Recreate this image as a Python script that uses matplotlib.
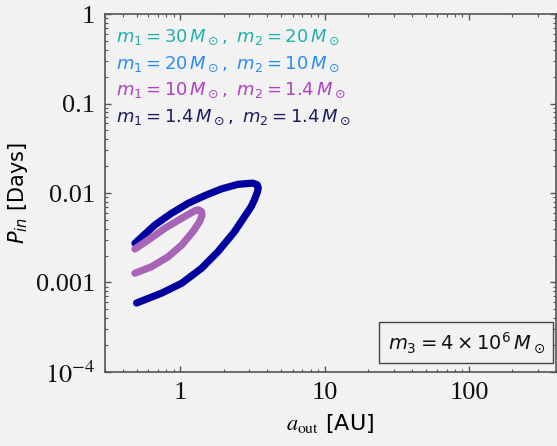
import numpy as np
import matplotlib.pyplot as plt
from matplotlib.ticker import LogLocator, FixedLocator, FixedFormatter, NullFormatter

# Stability boundary curves (a_out in AU, P_in in days), traced as closed loops
ns_x = [0.497, 0.740, 1.02, 1.40, 1.82, 2.37, 2.93, 3.09, 3.25, 3.42, 3.46, 3.40,
        3.17, 2.50, 1.92, 1.47, 1.13, 0.867, 0.665, 0.484]
ns_y = [0.00059, 0.00076, 0.00098, 0.00144, 0.00221, 0.00370, 0.00618, 0.00703,
        0.00835, 0.0103, 0.0115, 0.0124, 0.0129, 0.0125, 0.0111, 0.00933, 0.00767,
        0.00593, 0.00439, 0.00274]

bh_x = [0.484, 0.631, 0.822, 1.02, 1.22, 1.36, 1.41, 1.40, 1.33, 1.26, 1.02, 0.779,
        0.599, 0.484]
bh_y = [0.00127, 0.00150, 0.00194, 0.00262, 0.00370, 0.00480, 0.00560, 0.00620,
        0.00650, 0.00635, 0.00522, 0.00403, 0.00299, 0.00237]

legend_texts = [r'$m_1 = 30\,M_\odot,\ m_2 = 20\,M_\odot$',
                r'$m_1 = 20\,M_\odot,\ m_2 = 10\,M_\odot$',
                r'$m_1 = 10\,M_\odot,\ m_2 = 1.4\,M_\odot$',
                r'$m_1 = 1.4\,M_\odot,\ m_2 = 1.4\,M_\odot$']
legend_colors = ['#22B2AE', '#2A8CF5', '#B040C4', '#1C1C5E']

ytick_vals = [1e-4, 1e-3, 1e-2, 1e-1, 1]
ytick_labels = [r'$10^{-4}$', '0.001', '0.01', '0.1', '1']
xtick_vals = [1, 10, 100]
xtick_labels = ['1', '10', '100']

bg = '#F2F2F2'
fig = plt.figure(figsize=(5.57, 4.46), dpi=100, facecolor=bg)
ax = fig.add_axes([0.1885, 0.166, 0.8095, 0.8025], facecolor=bg)

ax.plot(ns_x, ns_y, color='#00009E', lw=5.2, solid_capstyle='round', solid_joinstyle='round')
ax.plot(bh_x, bh_y, color='#A865B8', lw=5.2, solid_capstyle='round', solid_joinstyle='round')

ax.set_xscale('log')
ax.set_yscale('log')
ax.set_xlim(0.3, 400)
ax.set_ylim(1e-4, 1)

ax.xaxis.set_major_locator(FixedLocator(xtick_vals))
ax.xaxis.set_major_formatter(FixedFormatter(xtick_labels))
ax.yaxis.set_major_locator(FixedLocator(ytick_vals))
ax.yaxis.set_major_formatter(FixedFormatter(ytick_labels))
for axis in (ax.xaxis, ax.yaxis):
    axis.set_minor_locator(LogLocator(base=10, subs=np.arange(2, 10)))
    axis.set_minor_formatter(NullFormatter())

ax.tick_params(which='both', direction='in', top=True, right=True, color='#555555')
ax.tick_params(which='major', length=4, width=1.0, pad=7)
ax.tick_params(which='minor', length=2.2, width=0.8)
for lab in ax.get_xticklabels() + ax.get_yticklabels():
    lab.set_fontfamily('Liberation Serif')
    lab.set_math_fontfamily('stix')
    lab.set_fontsize(19)
    lab.set_color('#111111')

for sp in ax.spines.values():
    sp.set_color('#555555')
    sp.set_linewidth(1.2)

ax.set_xlabel(r'$a_{\mathrm{out}}$ [AU]', fontsize=16, fontfamily='DejaVu Sans',
              math_fontfamily='stix', labelpad=6)
ax.set_ylabel(r'$P_{in}$ [Days]', fontsize=15, fontfamily='DejaVu Sans',
              math_fontfamily='dejavusans', labelpad=4)

# Mass labels for each binary
for i, (txt, c) in enumerate(zip(legend_texts, legend_colors)):
    ax.text(0.024, 0.9226 - i * 0.0749, txt, transform=ax.transAxes, color=c,
            fontsize=13, ha='left', va='baseline')

ax.text(0.976, 0.048, r'$m_3 = 4\times10^6\,M_\odot$', transform=ax.transAxes,
        fontsize=14, ha='right', va='bottom', color='#111111',
        bbox=dict(boxstyle='square,pad=0.42', facecolor=bg, edgecolor='#444444', lw=1.0))

fig.savefig('out.png', dpi=100, facecolor=bg)
